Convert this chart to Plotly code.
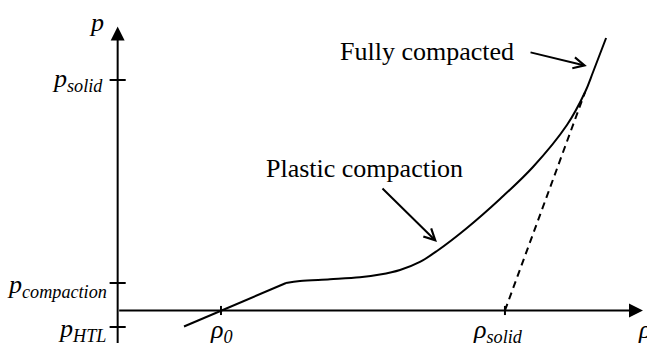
import plotly.graph_objects as go

# Density in units of rho_0, pressure in units of p_compaction
rho_elastic = [0.642, 1.000, 1.630]
p_elastic = [-0.593, 0.000, 1.019]

rho_plastic = [1.630, 1.765, 2.055, 2.345, 2.539, 2.733, 2.926, 3.091,
               3.381, 3.701, 4.020, 4.349, 4.525, 4.602, 4.728]
p_plastic = [1.019, 1.093, 1.156, 1.230, 1.330, 1.500, 1.800, 2.204,
             3.056, 4.130, 5.315, 6.870, 8.093, 8.833, 10.093]

rho_unload = [3.749, 4.525]
p_unload = [0.000, 8.093]

p_tick_vals = [-0.611, 1.019, 8.537]
p_tick_text = ["<i>p</i><sub><i>HTL</i></sub>",
               "<i>p</i><sub><i>compaction</i></sub>",
               "<i>p</i><sub><i>solid</i></sub>"]
p_label_xshift = [-10, -9, -13]
p_label_yshift = [-3, -3, 0]

rho_tick_vals = [1.000, 3.749]
rho_tick_text = ["<i>ρ</i><sub><i>0</i></sub>",
                 "<i>ρ</i><sub><i>solid</i></sub>"]
rho_label_xshift = [1, -7]

X_RANGE = [-1.139, 5.124]
Y_RANGE = [-1.204, 11.5]
RHO_AXIS_END = 5.085
P_AXIS_END = 10.52

FONT = "Liberation Serif, Times New Roman, serif"
INK = "black"

fig = go.Figure()

fig.add_trace(go.Scatter(x=rho_elastic, y=p_elastic, mode="lines",
                         line=dict(color=INK, width=2), hoverinfo="skip"))
fig.add_trace(go.Scatter(x=rho_plastic, y=p_plastic, mode="lines",
                         line=dict(color=INK, width=2, shape="spline", smoothing=1.0),
                         hoverinfo="skip"))
fig.add_trace(go.Scatter(x=rho_unload, y=p_unload, mode="lines",
                         line=dict(color=INK, width=2, dash="7px,5px"),
                         hoverinfo="skip"))

# tick marks crossing the axes
fig.add_trace(go.Scatter(x=[0] * len(p_tick_vals), y=p_tick_vals, mode="markers",
                         marker=dict(symbol="line-ew", size=11.5,
                                     line=dict(color=INK, width=2)),
                         hoverinfo="skip"))
fig.add_trace(go.Scatter(x=rho_tick_vals, y=[0] * len(rho_tick_vals), mode="markers",
                         marker=dict(symbol="line-ns", size=6.5,
                                     line=dict(color=INK, width=2)),
                         hoverinfo="skip"))

annotations = []

# axes with arrowheads
annotations.append(dict(x=0, y=P_AXIS_END, ax=0, ay=Y_RANGE[0] - 0.5,
                        xref="x", yref="y", axref="x", ayref="y", text="",
                        showarrow=True, arrowhead=2, arrowsize=1.4,
                        arrowwidth=2, arrowcolor=INK))
annotations.append(dict(x=RHO_AXIS_END, y=0, ax=0, ay=0,
                        xref="x", yref="y", axref="x", ayref="y", text="",
                        showarrow=True, arrowhead=2, arrowsize=1.4,
                        arrowwidth=2, arrowcolor=INK))

label_font = dict(family=FONT, size=26, color=INK)

annotations.append(dict(x=0, y=P_AXIS_END, xref="x", yref="y", text="<i>p</i>",
                        showarrow=False, xanchor="right", yanchor="middle",
                        xshift=-12, yshift=4, font=label_font))
annotations.append(dict(x=RHO_AXIS_END, y=0, xref="x", yref="y", text="<i>ρ</i>",
                        showarrow=False, xanchor="left", yanchor="top",
                        xshift=-7, yshift=-3, font=label_font))

for val, txt, xs, ys in zip(p_tick_vals, p_tick_text, p_label_xshift, p_label_yshift):
    annotations.append(dict(x=0, y=val, xref="x", yref="y", text=txt,
                            showarrow=False, xanchor="right", yanchor="middle",
                            xshift=xs, yshift=ys, font=label_font))

for val, txt, xs in zip(rho_tick_vals, rho_tick_text, rho_label_xshift):
    annotations.append(dict(x=val, y=0, xref="x", yref="y", text=txt,
                            showarrow=False, xanchor="center", yanchor="top",
                            xshift=xs, yshift=-3, font=label_font))

# callouts
annotations.append(dict(x=2.394, y=5.27, xref="x", yref="y",
                        text="Plastic compaction", showarrow=False,
                        xanchor="center", yanchor="middle", font=label_font))
annotations.append(dict(x=3.091, y=2.537, ax=2.549, ay=4.574,
                        xref="x", yref="y", axref="x", ayref="y", text="",
                        showarrow=True, arrowhead=5, arrowsize=1.1,
                        arrowwidth=2, arrowcolor=INK))
annotations.append(dict(x=2.994, y=9.6, xref="x", yref="y",
                        text="Fully compacted", showarrow=False,
                        xanchor="center", yanchor="middle", font=label_font))
annotations.append(dict(x=4.542, y=9.056, ax=3.982, ay=9.574,
                        xref="x", yref="y", axref="x", ayref="y", text="",
                        showarrow=True, arrowhead=5, arrowsize=1.1,
                        arrowwidth=2, arrowcolor=INK))

fig.update_layout(
    width=647, height=343,
    margin=dict(l=0, r=0, t=0, b=0),
    paper_bgcolor="white", plot_bgcolor="white",
    showlegend=False,
    xaxis=dict(range=X_RANGE, visible=False, fixedrange=True),
    yaxis=dict(range=Y_RANGE, visible=False, fixedrange=True),
    annotations=annotations,
    font=dict(family=FONT),
)

fig.write_html("out.html", config={"displayModeBar": False})
